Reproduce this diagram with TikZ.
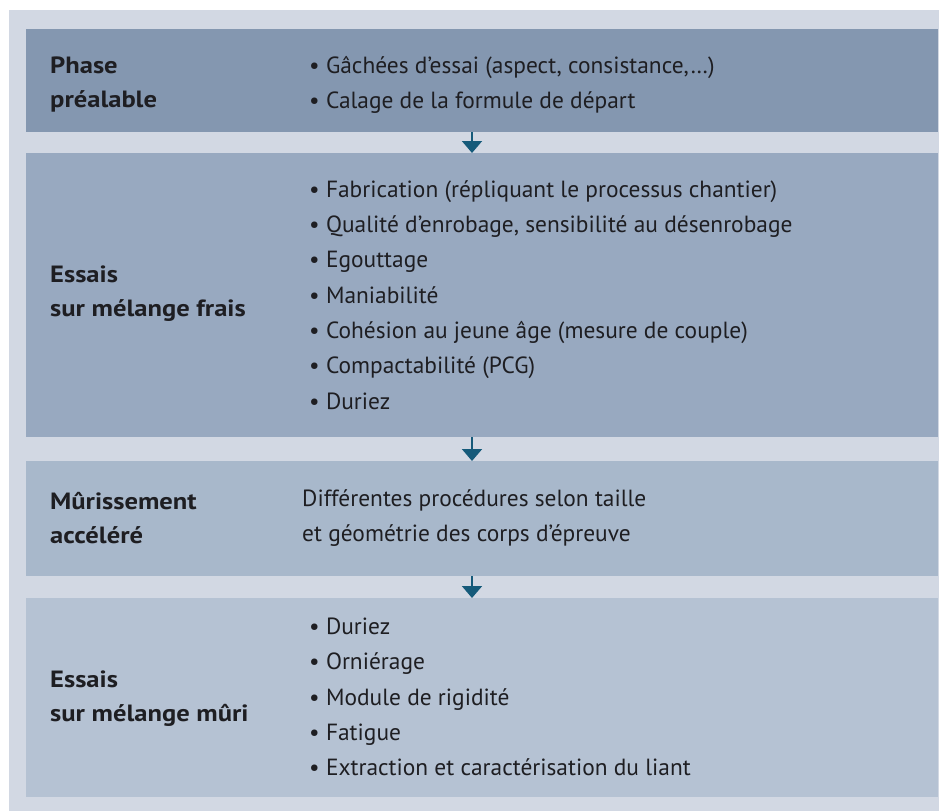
\documentclass[tikz,border=0pt]{standalone}
\usepackage{fontspec}
\setmainfont{PT Sans}
\newfontfamily\stagefont[FakeStretch=1.13]{PT Sans}
\usetikzlibrary{positioning}
\usetikzlibrary{arrows.meta}

\definecolor{bgcol}{HTML}{D2D8E3}
\definecolor{boxa}{HTML}{8497B0}
\definecolor{boxb}{HTML}{98A9C0}
\definecolor{boxc}{HTML}{A8B8CB}
\definecolor{boxd}{HTML}{B5C2D3}
\definecolor{arrowcol}{HTML}{155A7A}
\definecolor{txtcol}{HTML}{1E1E22}

\tikzset{
  stagebox/.style={rectangle, inner sep=0, minimum width=912pt, anchor=north west},
  stagelabel/.style={anchor=west, inner sep=0, align=left, text=txtcol,
    font=\stagefont\fontsize{23.5}{34}\selectfont\bfseries},
  stageitems/.style={anchor=west, inner sep=0, align=left, text=txtcol,
    font=\fontsize{23.4}{35.3}\selectfont},
  flowarrow/.style={draw=arrowcol, line width=2pt, -{Triangle[width=20pt,length=12pt]}}
}

\begin{document}
\begin{tikzpicture}[x=1pt, y=-1pt]
  \useasboundingbox (0, 0) rectangle (939, 811);
  \fill [bgcol] (9, 10) rectangle (939, 811);

  \node [stagebox, fill=boxa, minimum height=103pt] (phase) at (26, 29) {};
  \node [stagebox, fill=boxb, minimum height=284pt] (frais) at (26, 153) {};
  \node [stagebox, fill=boxc, minimum height=115pt] (murissement) at (26, 461) {};
  \node [stagebox, fill=boxd, minimum height=199pt] (muri) at (26, 598) {};

  \node [stagelabel] (phaselabel) at (50, 85) {Phase\\préalable};
  \node [stagelabel] (fraislabel) at (50, 294) {Essais\\sur mélange frais};
  \node [stagelabel] (murissementlabel) at (50, 518) {Mûrissement\\accéléré};
  \node [stagelabel] (murilabel) at (50, 699) {Essais\\sur mélange mûri};

  \node [stageitems] (phaseitems) at (309, 85)
    {\textbullet\ Gâchées d’essai (aspect, consistance,…)\\
     \textbullet\ Calage de la formule de départ};
  \node [stageitems] (fraisitems) at (309, 295)
    {\textbullet\ Fabrication (répliquant le processus chantier)\\
     \textbullet\ Qualité d’enrobage, sensibilité au désenrobage\\
     \textbullet\ Egouttage\\
     \textbullet\ Maniabilité\\
     \textbullet\ Cohésion au jeune âge (mesure de couple)\\
     \textbullet\ Compactabilité (PCG)\\
     \textbullet\ Duriez};
  \node [stageitems] (murissementitems) at (302, 518)
    {Différentes procédures selon taille\\
     et géométrie des corps d’épreuve};
  \node [stageitems] (muriitems) at (309, 697)
    {\textbullet\ Duriez\\
     \textbullet\ Orniérage\\
     \textbullet\ Module de rigidité\\
     \textbullet\ Fatigue\\
     \textbullet\ Extraction et caractérisation du liant};

  \draw [flowarrow] (phase.south -| 472, 0) -- (frais.north -| 472, 0);
  \draw [flowarrow] (frais.south -| 472, 0) -- (murissement.north -| 472, 0);
  \draw [flowarrow] (murissement.south -| 472, 0) -- (muri.north -| 472, 0);
\end{tikzpicture}
\end{document}
